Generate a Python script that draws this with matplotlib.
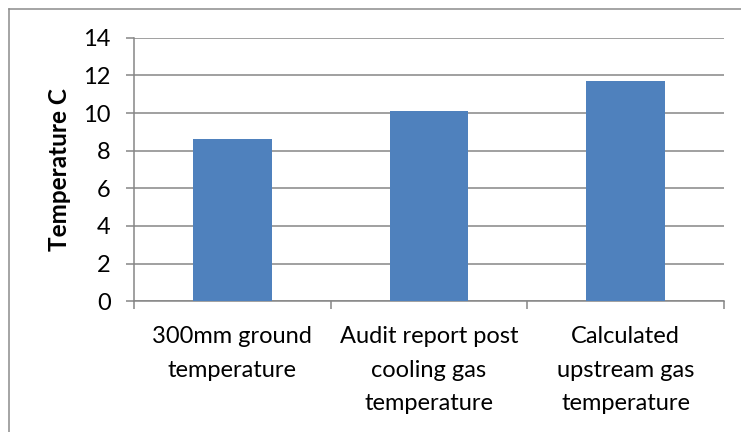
import matplotlib
matplotlib.use("Agg")
import matplotlib.pyplot as plt
from matplotlib.lines import Line2D

categories = ["300mm ground\ntemperature",
              "Audit report post\ncooling gas\ntemperature",
              "Calculated\nupstream gas\ntemperature"]
values = [8.6, 10.1, 11.7]
y_ticks = [0, 2, 4, 6, 8, 10, 12, 14]
y_label = "Temperature C"

plt.rcParams['font.family'] = ['Lato', 'DejaVu Sans']

W, H = 741, 432
fig = plt.figure(figsize=(W / 100, H / 100), dpi=100)
ax = fig.add_axes([134 / W, 1 - 301.3 / H, (724 - 134) / W, (301.3 - 37.7) / H])

grid_c = '#868686'
bar_c = '#4F81BD'
x = list(range(len(values)))
ax.bar(x, values, width=0.4, color=bar_c, zorder=3)

ax.set_xlim(-0.5, len(values) - 0.5)
ax.set_ylim(0, 14)
ax.set_yticks(y_ticks)
ax.set_yticklabels([str(t) for t in y_ticks])
for t in y_ticks:
    ax.axhline(t, color=grid_c, lw=1.1, zorder=1)

ax.set_xticks([i - 0.5 for i in range(len(values) + 1)])
ax.set_xticklabels([])
ax.set_xticks(x, minor=True)
ax.set_xticklabels(categories, minor=True, linespacing=1.72)
ax.tick_params(axis='x', which='major', length=5.8, width=1.1, color=grid_c, direction='out')
ax.tick_params(axis='x', which='minor', length=0, pad=18, labelsize=17, colors='black')
ax.tick_params(axis='y', length=5.8, width=1.1, color=grid_c, direction='out', pad=11, labelsize=17)

for s in ['top', 'right']:
    ax.spines[s].set_visible(False)
for s in ['left', 'bottom']:
    ax.spines[s].set_color(grid_c)
    ax.spines[s].set_linewidth(1.1)

ax.set_ylabel(y_label, fontsize=17.5, fontweight='bold')
ax.yaxis.set_label_coords((71 - 134) / 590, 0.5)

# chart area border (only top and left visible in crop)
bx, by = 8.5 / W, 1 - 8.5 / H
fig.add_artist(Line2D([bx, bx], [0, by], color='#8c8c8c', lw=1.1, transform=fig.transFigure))
fig.add_artist(Line2D([bx, 1], [by, by], color='#8c8c8c', lw=1.1, transform=fig.transFigure))

fig.savefig("out.png", dpi=100)
